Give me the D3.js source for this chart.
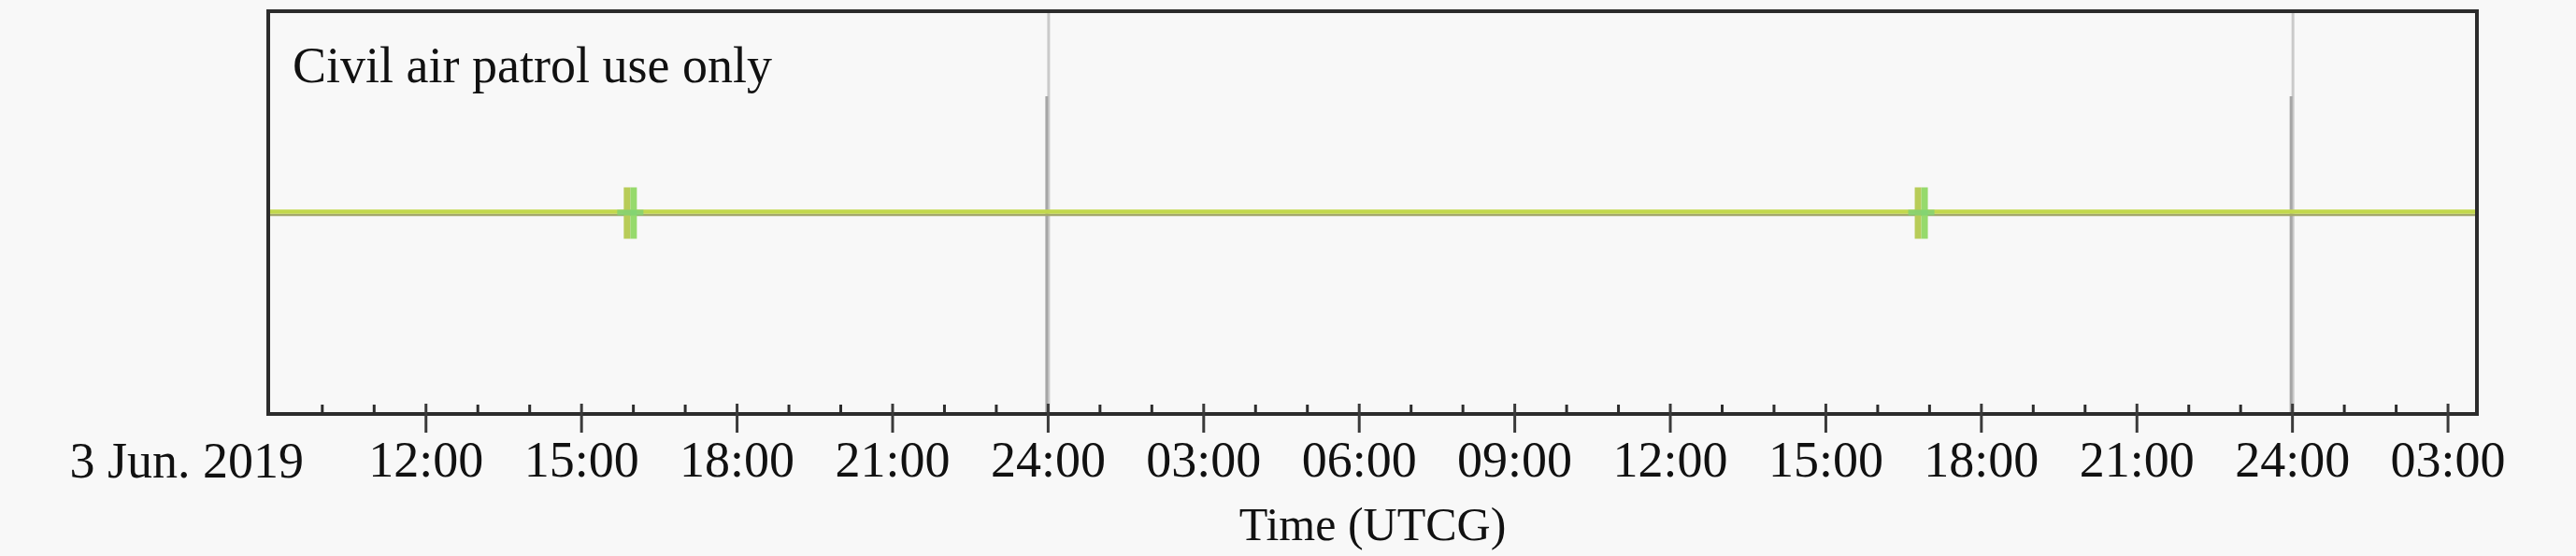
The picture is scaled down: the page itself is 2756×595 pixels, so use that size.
<!DOCTYPE html>
<html>
<head>
<meta charset="utf-8">
<script src="https://cdn.jsdelivr.net/npm/d3@7"></script>
<style>
  html, body { margin: 0; padding: 0; background: #f8f8f8; }
  svg { display: block; }
  text { font-family: "Liberation Serif", "Times New Roman", serif; fill: #111; }
</style>
</head>
<body>
<svg id="chart" width="2756" height="595"></svg>
<script>
// time window shown on the axis (UTC)
const timeDomain = ["2019-06-03T08:58:00Z", "2019-06-05T03:34:00Z"];
// access interval (green bar) and the two event markers on it
const accessStart = "2019-06-03T08:58:00Z";
const accessEnd = "2019-06-05T03:34:00Z";
const eventTimes = ["2019-06-03T15:57:00Z", "2019-06-04T16:51:00Z"];
// day boundaries drawn as gray lines
const dayLines = ["2019-06-04T00:00:00Z", "2019-06-05T00:00:00Z"];
// labels
const dateLabel = "3 Jun. 2019";
const panelLabel = "Civil air patrol use only";
const axisTitle = "Time (UTCG)";

const svg = d3.select("#chart");
const W = 2756, H = 595;
const plotLeft = 287, plotRight = 2650, plotTop = 12, plotBottom = 443;

const x = d3.scaleUtc()
    .domain(timeDomain.map(d => new Date(d)))
    .range([plotLeft, plotRight]);
const y = d3.scaleLinear().domain([0, 1]).range([plotBottom, plotTop]);

// background
svg.append("rect").attr("width", W).attr("height", H).attr("fill", "#f8f8f8");

// day boundary lines
dayLines.forEach(d => {
    const xx = x(new Date(d));
    svg.append("line")
        .attr("x1", xx + 1).attr("x2", xx + 1)
        .attr("y1", plotTop).attr("y2", plotBottom)
        .attr("stroke", "#cacaca").attr("stroke-width", 3);
    svg.append("line")
        .attr("x1", xx - 1).attr("x2", xx - 1)
        .attr("y1", 103).attr("y2", plotBottom)
        .attr("stroke", "#a6a6a6").attr("stroke-width", 3);
});

// access bar
const yMid = y(0.5);
svg.append("line")
    .attr("x1", x(new Date(accessStart))).attr("x2", x(new Date(accessEnd)))
    .attr("y1", yMid + 2.5).attr("y2", yMid + 2.5)
    .attr("stroke", "#a4a86c").attr("stroke-width", 2.5);
svg.append("line")
    .attr("x1", x(new Date(accessStart))).attr("x2", x(new Date(accessEnd)))
    .attr("y1", yMid - 1).attr("y2", yMid - 1)
    .attr("stroke", "#c2d84c").attr("stroke-width", 4.5);

// event markers
eventTimes.forEach(d => {
    const xx = x(new Date(d));
    svg.append("rect")
        .attr("x", xx - 7).attr("y", yMid - 27)
        .attr("width", 7).attr("height", 55)
        .attr("fill", "#b8cc58");
    svg.append("rect")
        .attr("x", xx).attr("y", yMid - 27)
        .attr("width", 7).attr("height", 55)
        .attr("fill", "#96da6c");
    svg.append("rect")
        .attr("x", xx - 14).attr("y", yMid - 3)
        .attr("width", 28).attr("height", 6)
        .attr("fill", "#80d274").attr("opacity", 0.8);
});

// frame
svg.append("rect")
    .attr("x", plotLeft).attr("y", plotTop)
    .attr("width", plotRight - plotLeft).attr("height", plotBottom - plotTop)
    .attr("fill", "none").attr("stroke", "#2c2c2c").attr("stroke-width", 4);

// tick positions
const majorTicks = d3.utcHour.every(3).range(x.domain()[0], x.domain()[1]);
const minorTicks = d3.utcHour.every(1).range(x.domain()[0], x.domain()[1])
    .filter(t => t.getUTCHours() % 3 !== 0);

// minor ticks (hourly, upward)
svg.append("g")
    .attr("transform", `translate(0,${plotBottom})`)
    .call(d3.axisBottom(x).tickValues(minorTicks).tickSize(-10).tickFormat(""))
    .call(g => g.select(".domain").remove())
    .call(g => g.selectAll(".tick line").attr("stroke", "#2c2c2c").attr("stroke-width", 3));

// major ticks with labels
const fmt = d => d.getUTCHours() === 0 ? "24:00" : d3.utcFormat("%H:%M")(d);
svg.append("g")
    .attr("transform", `translate(0,${plotBottom})`)
    .call(d3.axisBottom(x).tickValues(majorTicks.filter(t => x(t) > plotLeft + 5))
        .tickSize(20).tickPadding(9).tickFormat(fmt))
    .call(g => g.select(".domain").remove())
    .call(g => g.selectAll(".tick line").attr("y1", -11).attr("stroke", "#3a3a3a").attr("stroke-width", 3))
    .call(g => g.selectAll(".tick text")
        .attr("font-family", '"Liberation Serif", "Times New Roman", serif')
        .attr("font-size", 54).attr("fill", "#111"));

// date label at the start of the axis
svg.append("text")
    .attr("x", x.range()[0] + 38).attr("y", 511)
    .attr("text-anchor", "end")
    .attr("font-size", 54)
    .text(dateLabel);

// axis title
svg.append("text")
    .attr("x", (plotLeft + plotRight) / 2).attr("y", 578)
    .attr("text-anchor", "middle")
    .attr("font-size", 50)
    .text(axisTitle);

// panel label
svg.append("text")
    .attr("x", 313).attr("y", 88)
    .attr("font-size", 54)
    .text(panelLabel);
</script>
</body>
</html>
